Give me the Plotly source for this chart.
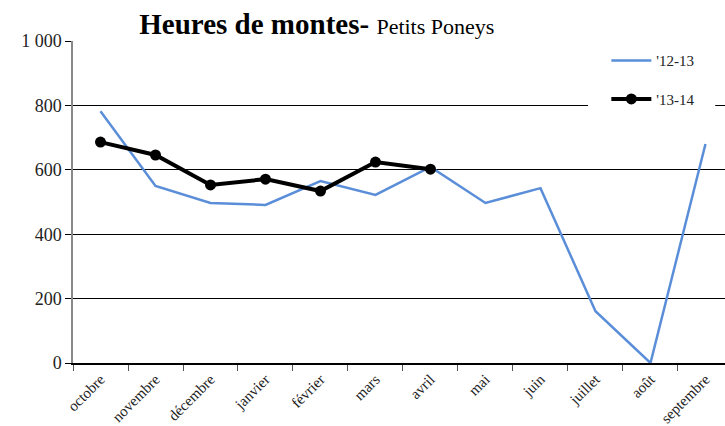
import plotly.graph_objects as go

months = ["octobre", "novembre", "décembre", "janvier", "février", "mars",
          "avril", "mai", "juin", "juillet", "août", "septembre"]
s1213 = [782, 550, 497, 491, 565, 522, 609, 497, 543, 161, 0, 680]
months_1314 = months[:7]
s1314 = [686, 646, 553, 571, 534, 624, 602]

SERIF = "'Liberation Serif', 'Times New Roman', 'DejaVu Serif', serif"

fig = go.Figure()
fig.add_trace(go.Scatter(x=months, y=s1213, mode="lines", name="'12-13",
                         line=dict(color="#5B8ED8", width=2.5), legendgroup="a"))
fig.add_trace(go.Scatter(x=months_1314, y=s1314, mode="lines+markers", name="'13-14",
                         line=dict(color="black", width=4),
                         marker=dict(size=11, color="black"), legendgroup="b"))

# white legend backdrop interrupting the 800 gridline, as in the reference
fig.add_shape(type="rect", xref="paper", yref="paper", x0=0.79, x1=0.985,
              y0=0.79, y1=0.81, fillcolor="white", line=dict(width=0), layer="above")

fig.update_layout(
    width=725, height=426,
    margin=dict(l=73, r=0, t=41, b=63, autoexpand=False),
    plot_bgcolor="white", paper_bgcolor="white",
    separators=", ",
    font=dict(family=SERIF, color="#222"),
    title=dict(text="<b>Heures de montes-</b> <span style='font-size:22px'>Petits Poneys</span>",
               font=dict(family=SERIF, size=29, color="black"),
               x=0.374, xref="paper", xanchor="center", y=0.945, yref="container", yanchor="middle"),
    showlegend=True,
    legend=dict(x=0.818, y=0.99, xanchor="left", yanchor="top", bgcolor="white",
                font=dict(family=SERIF, size=15, color="#222"),
                tracegroupgap=16, itemwidth=40),
    xaxis=dict(type="category", categoryorder="array", categoryarray=months,
               range=[-0.5, 11.355], tickson="boundaries", ticks="outside",
               ticklen=6, tickcolor="#555", showline=True, linecolor="black",
               linewidth=1.5, showgrid=False, tickangle=-45, automargin=False,
               tickfont=dict(family=SERIF, size=15, color="#222")),
    yaxis=dict(range=[0, 1000], dtick=200, tickformat=",d", showgrid=True,
               gridcolor="black", gridwidth=1, zeroline=True, zerolinecolor="black",
               zerolinewidth=1.5, showline=True, linecolor="#888", linewidth=1.5,
               ticks="outside", ticklen=6, tickcolor="black", automargin=False,
               tickfont=dict(family=SERIF, size=18, color="#222")),
)
fig.write_html("out.html", config={"displayModeBar": False},
               post_script="document.body.style.margin='0';document.body.style.overflow='hidden';")
